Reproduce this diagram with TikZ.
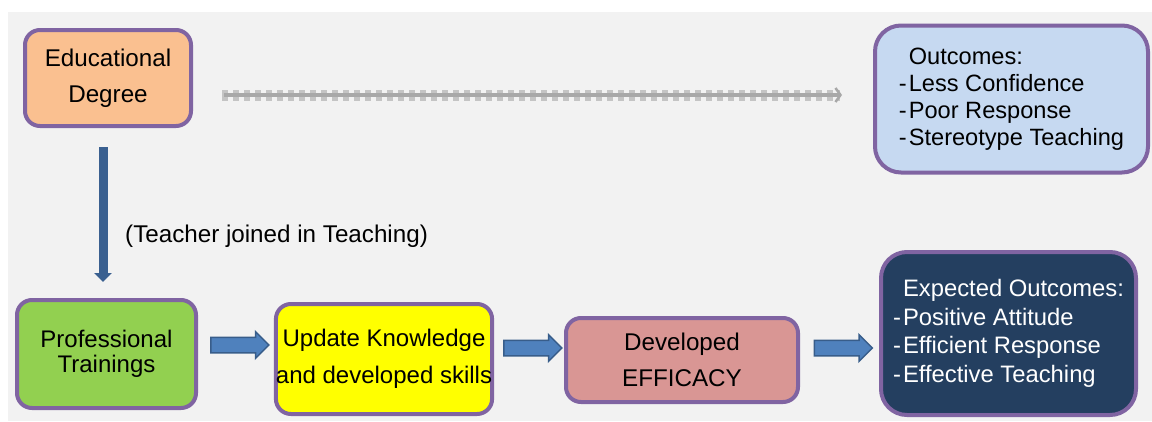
\documentclass[tikz,border=0pt]{standalone}
\usepackage{fontspec}
\setmainfont{Liberation Sans}
\usetikzlibrary{shapes.arrows,arrows.meta,calc}
\definecolor{bg}{HTML}{F2F2F2}
\definecolor{purp}{HTML}{8064A2}
\definecolor{orangeb}{HTML}{FAC090}
\definecolor{lblue}{HTML}{C6D9F1}
\definecolor{greenb}{HTML}{92D050}
\definecolor{yellowb}{HTML}{FFFF00}
\definecolor{pinkb}{HTML}{D99694}
\definecolor{navyb}{HTML}{243F60}
\definecolor{arrowblue}{HTML}{4F81BD}
\definecolor{arrowdk}{HTML}{385D8A}
\definecolor{vblue}{HTML}{3A6090}
\definecolor{dgray1}{HTML}{C4C4C4}
\definecolor{dgray2}{HTML}{A8A8A8}
\newcommand{\dsh}{-\kern2pt}
\begin{document}
\begin{tikzpicture}[x=1pt,y=-1pt,
  box/.style={draw=purp, line width=4pt, rounded corners=15pt, inner sep=0pt,
    align=center, font=\fontsize{24.2}{36}\selectfont},
  listbox/.style={box, rounded corners=26pt, align=left},
  blk/.style={single arrow, draw=arrowdk, fill=arrowblue, line width=1.5pt,
    minimum height=58pt, single arrow head extend=5.5pt,
    single arrow tip angle=90, inner xsep=0pt, inner ysep=7pt}
]
\useasboundingbox (0,0) rectangle (1152,421);
\fill[bg] (8,12) rectangle (1152,421);

% boxes
\node[box, fill=orangeb, minimum width=166pt, minimum height=96pt] (edu) at (108,78)
  {Educational\\Degree};
\node[listbox, fill=lblue, minimum width=273pt, minimum height=147pt,
  font=\fontsize{23.6}{27}\selectfont] (outc) at (1011.5,99)
  {\phantom{\dsh}Outcomes:\\\dsh Less Confidence\\\dsh Poor Response\\\dsh Stereotype Teaching};
\node[box, fill=greenb, minimum width=179pt, minimum height=108pt,
  font=\fontsize{24}{29}\selectfont] (prof) at (106.5,354)
  {\raisebox{4pt}{\shortstack{Professional\\[4pt]Trainings}}};
\node[box, fill=yellowb, minimum width=216pt, minimum height=110pt,
  font=\fontsize{24}{37}\selectfont] (upd) at (384,359)
  {Update Knowledge\\and developed skills};
\node[box, fill=pinkb, minimum width=232pt, minimum height=84pt] (dev) at (682,360)
  {Developed\\EFFICACY};
\node[listbox, fill=navyb, text=white, minimum width=255pt, minimum height=163pt,
  font=\fontsize{23.8}{28.5}\selectfont] (exp) at (1008.5,333.5)
  {\phantom{\dsh}Expected Outcomes:\\\dsh Positive Attitude\\\dsh Efficient Response\\\dsh Effective Teaching};

% label
\node[anchor=west, inner sep=0pt, font=\fontsize{24.2}{28}\selectfont] (lbl) at (125,236)
  {(Teacher joined in Teaching)};

% dashed grey arrow
\draw[dgray1, line width=11pt, dash pattern=on 6pt off 5pt]
  ([xshift=29pt, yshift=-17pt]edu.east) -- ([xshift=-33pt, yshift=4pt]outc.west);
\draw[dgray2, line width=4pt, -{Straight Barb[length=5pt, width=14pt, line width=2.5pt]}]
  ([xshift=31pt, yshift=-17pt]edu.east) -- ([xshift=-31pt, yshift=4pt]outc.west);

% vertical arrow
\draw[vblue, line width=9pt, -{Triangle[width=17pt, length=9pt]}]
  ([xshift=-5pt, yshift=-19pt]edu.south) -- ([xshift=-3.5pt, yshift=16pt]prof.north);

% block arrows
\coordinate (m1) at ($(prof.east)!0.5!(upd.west)$);
\coordinate (m2) at ($(upd.east)!0.5!(dev.west)$);
\coordinate (m3) at ($(dev.east)!0.5!(exp.west)$);
\node[blk] (a1) at (m1 |- 0,345) {};
\node[blk] (a2) at (m2 |- 0,348) {};
\node[blk] (a3) at (m3 |- 0,348) {};
\end{tikzpicture}
\end{document}
